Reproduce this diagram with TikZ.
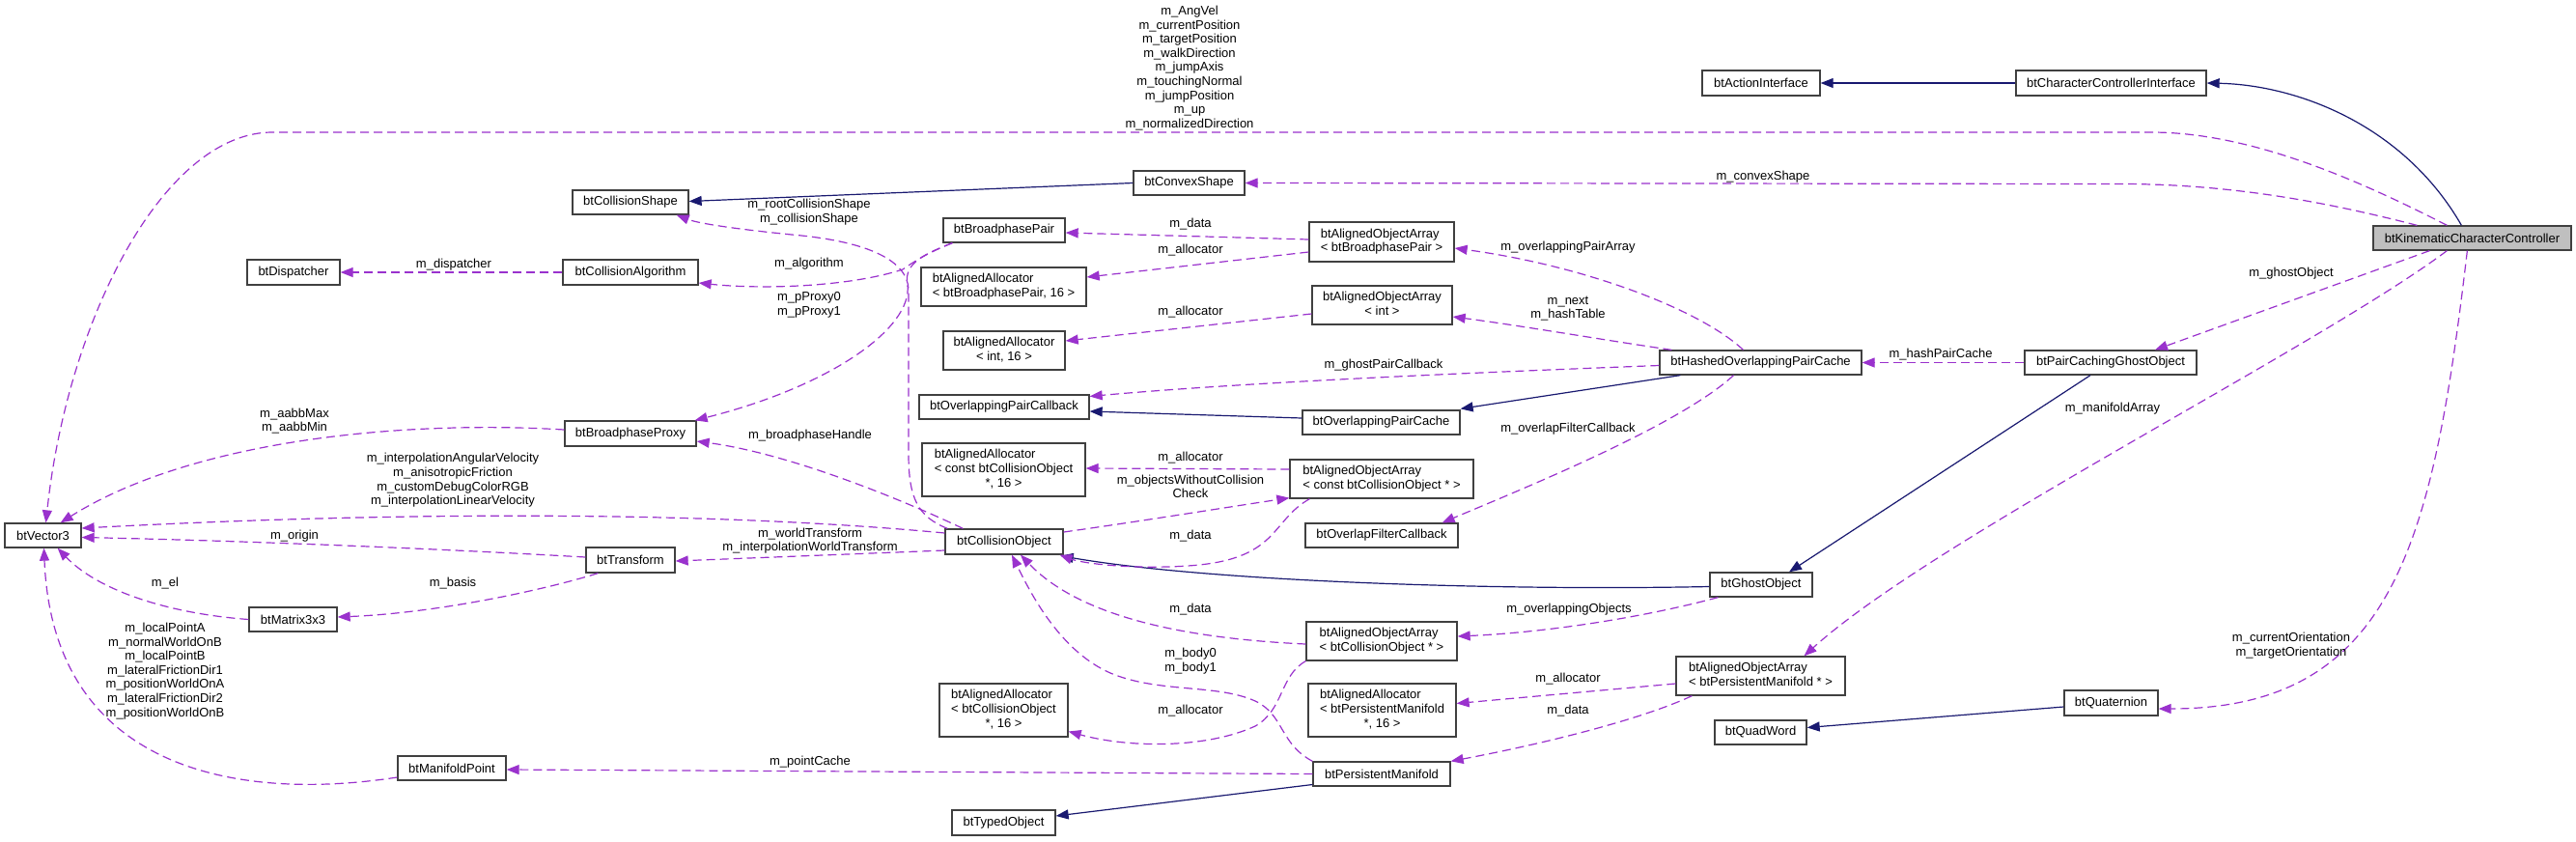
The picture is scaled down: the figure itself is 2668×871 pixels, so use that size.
\documentclass[tikz,border=0pt]{standalone}
\usepackage{fontspec}
\setmainfont{Liberation Sans}
\usetikzlibrary{arrows.meta,calc}
\definecolor{usecol}{HTML}{9A32CD}
\definecolor{inhcol}{HTML}{191970}
\definecolor{boxcol}{HTML}{404040}
\definecolor{kinfill}{HTML}{BFBFBF}
\newcommand\mkcls[6]{\node[cls,minimum width=#4pt,minimum height=#5pt] (#1) at (#2,#3) {#6};}
\newcommand\twol[2]{\begin{tabular}{@{}l@{}}#1\\\multicolumn{1}{@{}c@{}}{#2}\end{tabular}}
\newcommand\threel[3]{\begin{tabular}{@{}l@{}}#1\\#2\\\multicolumn{1}{@{}c@{}}{#3}\end{tabular}}
\begin{document}
\begin{tikzpicture}[x=1pt,y=-1pt,
 cls/.style={draw=boxcol, fill=white, line width=1.3pt, inner sep=0pt, font=\fontsize{13}{14.6}\selectfont, text=black},
 lbl/.style={inner sep=0pt, font=\fontsize{13}{14.6}\selectfont, align=center},
 uses/.style={draw=usecol, line width=1.2pt, dash pattern=on 9pt off 5pt, -{Triangle[length=13pt,width=10pt]}},
 inh/.style={draw=inhcol, line width=1.2pt, -{Triangle[length=13pt,width=10pt]}},
]
\useasboundingbox[fill=white] (0,0) rectangle (2668,871);

% nodes
\node[cls,fill=kinfill,minimum width=205pt,minimum height=25pt] (kin) at (2560.5,246.5) {btKinematicCharacterController};
\mkcls{cci}{2186.5}{86}{197}{26}{btCharacterControllerInterface}
\mkcls{act}{1824}{86}{122}{26}{btActionInterface}
\mkcls{convex}{1231.5}{189.5}{115}{25}{btConvexShape}
\mkcls{cshape}{653}{209.5}{120}{25}{btCollisionShape}
\mkcls{disp}{304}{282}{96}{26}{btDispatcher}
\mkcls{calg}{653}{282}{140}{26}{btCollisionAlgorithm}
\mkcls{bpp}{1040}{238.5}{126}{25}{btBroadphasePair}
\mkcls{aoabp}{1431}{250.5}{150}{41}{\twol{btAlignedObjectArray}{< btBroadphasePair >}}
\mkcls{aabp}{1039.5}{297}{171}{40}{\twol{btAlignedAllocator}{< btBroadphasePair, 16 >}}
\mkcls{aaint}{1040}{363}{126}{40}{\twol{btAlignedAllocator}{< int, 16 >}}
\mkcls{aoaint}{1431.5}{316}{145}{40}{\twol{btAlignedObjectArray}{< int >}}
\mkcls{hopc}{1823.5}{375.5}{209}{25}{btHashedOverlappingPairCache}
\mkcls{pcgo}{2186}{375.5}{178}{25}{btPairCachingGhostObject}
\mkcls{opcb}{1040}{421.5}{176}{25}{btOverlappingPairCallback}
\mkcls{opc}{1430.5}{437.5}{163}{25}{btOverlappingPairCache}
\mkcls{bpproxy}{653}{449}{136}{26}{btBroadphaseProxy}
\mkcls{vec}{44.5}{554.5}{79}{25}{btVector3}
\mkcls{aacco}{1039.5}{486.5}{169}{55}{\threel{btAlignedAllocator}{< const btCollisionObject}{*, 16 >}}
\mkcls{aoacco}{1431}{496}{190}{40}{\twol{btAlignedObjectArray}{< const btCollisionObject * >}}
\mkcls{ofc}{1431}{554.5}{158}{25}{btOverlapFilterCallback}
\mkcls{co}{1040}{561}{122}{26}{btCollisionObject}
\mkcls{tr}{653}{580}{92}{26}{btTransform}
\mkcls{go}{1824}{605.5}{106}{25}{btGhostObject}
\mkcls{mat}{303.5}{641.5}{91}{25}{btMatrix3x3}
\mkcls{aoaco}{1431}{664}{156}{40}{\twol{btAlignedObjectArray}{< btCollisionObject * >}}
\mkcls{aoapm}{1823.5}{700}{175}{40}{\twol{btAlignedObjectArray}{< btPersistentManifold * >}}
\mkcls{aaco}{1039.5}{735.5}{133}{55}{\threel{btAlignedAllocator}{< btCollisionObject}{*, 16 >}}
\mkcls{aapm}{1431.5}{735.5}{153}{55}{\threel{btAlignedAllocator}{< btPersistentManifold}{*, 16 >}}
\mkcls{quat}{2186.5}{728}{97}{26}{btQuaternion}
\mkcls{qw}{1823.5}{758.5}{95}{25}{btQuadWord}
\mkcls{mp}{468}{795.5}{112}{25}{btManifoldPoint}
\mkcls{pm}{1431}{801.5}{142}{25}{btPersistentManifold}
\mkcls{to}{1039.5}{852}{107}{26}{btTypedObject}

% inheritance
\draw[inh] ($(kin.north west)+(92,0)$) .. controls (2490,130) and (2380,88) .. (cci.east);
\draw[inh] (cci.west) -- (act.east);
\draw[inh] (convex.west) -- ($(cshape.east)+(0,-1)$);
\draw[inh] ($(pcgo.south)+(-21,0)$) -- ($(go.north)+(29,0)$);
\draw[inh] ($(go.west)+(0,2)$) .. controls (1550,612) and (1250,602) .. ($(co.south east)+(-3,1)$);
\draw[inh] ($(hopc.south west)+(22,0)$) -- ($(opc.north east)+(0,-1)$);
\draw[inh] ($(opc.west)+(0,-4.5)$) -- ($(opcb.east)+(0,4.5)$);
\draw[inh] ($(pm.west)+(0,11)$) -- ($(to.east)+(0,-7)$);
\draw[inh] ($(quat.west)+(0,4)$) -- ($(qw.east)+(0,-5)$);

% usage
\draw[uses] ($(kin.north west)+(77,0)$) .. controls (2440,185) and (2330,137) .. (2228,137) -- (282,137) .. controls (170,137) and (70,330) .. ($(vec.north)+(3,0)$);
\node[lbl] (l1) at (1232,70.5) {m\_AngVel\\m\_currentPosition\\m\_targetPosition\\m\_walkDirection\\m\_jumpAxis\\m\_touchingNormal\\m\_jumpPosition\\m\_up\\m\_normalizedDirection};

\draw[uses] ($(kin.north west)+(46,0)$) .. controls (2420,212) and (2320,191) .. (2200,190.5) -- (convex.east);
\node[lbl] (l2) at (1826,183) {m\_convexShape};

\draw[uses] ($(kin.south west)+(59,0)$) -- ($(pcgo.north)+(46,0)$);
\node[lbl] (l3) at (2373,283) {m\_ghostObject};

\draw[uses] ($(kin.south west)+(77,0)$) .. controls (2400,360) and (2000,560) .. ($(aoapm.north)+(45,0)$);
\node[lbl] (l4) at (2188,423) {m\_manifoldArray};

\draw[uses] ($(kin.south west)+(98,0)$) .. controls (2520,560) and (2480,734) .. ($(quat.east)+(0,6)$);
\node[lbl] (l5) at (2373,668.5) {m\_currentOrientation\\m\_targetOrientation};

\draw[uses] (pcgo.west) -- (hopc.east);
\node[lbl] (l6) at (2010,367) {m\_hashPairCache};

\draw[uses] ($(hopc.north)+(-18,0)$) .. controls (1760,320) and (1640,275) .. ($(aoabp.east)+(0,6.5)$);
\node[lbl] (l7) at (1624,256) {m\_overlappingPairArray};

\draw[uses] ($(hopc.north west)+(13,0)$) .. controls (1660,352) and (1580,338) .. ($(aoaint.east)+(0,12)$);
\node[lbl] (l8) at (1624,319.5) {m\_next\\m\_hashTable};

\draw[uses] ($(hopc.west)+(0,3)$) .. controls (1550,385) and (1300,395) .. ($(opcb.east)+(0,-11)$);
\node[lbl] (l9) at (1433,378) {m\_ghostPairCallback};

\draw[uses] ($(hopc.south)+(-28,0)$) .. controls (1740,440) and (1580,505) .. ($(ofc.north east)+(-17,0)$);
\node[lbl] (l10) at (1624,444) {m\_overlapFilterCallback};

\draw[uses] ($(aoabp.west)+(0,-2.5)$) -- ($(bpp.east)+(0,2.5)$);
\node[lbl] (l11) at (1233,232) {m\_data};
\draw[uses] ($(aoabp.west)+(0,10.5)$) -- ($(aabp.east)+(0,-10)$);
\node[lbl] (l12) at (1233,259) {m\_allocator};
\draw[uses] ($(aoaint.west)+(0,9)$) -- ($(aaint.east)+(0,-10)$);
\node[lbl] (l13) at (1233,323) {m\_allocator};
\draw[uses] ($(aoacco.west)+(0,-10)$) -- ($(aacco.east)+(0,-1.5)$);
\node[lbl] (l14) at (1233,474) {m\_allocator};

\draw[uses] ($(co.east)+(0,-10)$) .. controls (1180,540) and (1260,527) .. ($(aoacco.south west)+(0,-1)$);
\node[lbl] (l15) at (1233,504) {m\_objectsWithoutCollision\\Check};

\draw[uses] ($(aoacco.south west)+(21,0)$) .. controls (1315,540) and (1325,580) .. (1230,586) .. controls (1170,590) and (1120,583) .. ($(co.south east)+(-4,0)$);
\node[lbl] (l16) at (1233,555) {m\_data};

\draw[uses] ($(aoaco.west)+(0,3)$) .. controls (1200,660) and (1110,630) .. ($(co.south)+(17,0)$);
\node[lbl] (l17) at (1233,631) {m\_data};

\draw[uses] (pm.north west) .. controls (1325,770) and (1330,740) .. (1300,726) .. controls (1260,708) and (1200,718) .. (1150,697) .. controls (1100,675) and (1070,620) .. ($(co.south)+(8,0)$);
\node[lbl] (l18) at (1233,684.5) {m\_body0\\m\_body1};

\draw[uses] (aoaco.south west) .. controls (1325,700) and (1330,735) .. (1300,752) .. controls (1250,775) and (1170,775) .. ($(aaco.east)+(0,22)$);
\node[lbl] (l19) at (1233,736) {m\_allocator};

\draw[uses] ($(go.south west)+(9,0)$) .. controls (1700,640) and (1600,655) .. ($(aoaco.east)+(0,-5)$);
\node[lbl] (l20) at (1625,631) {m\_overlappingObjects};

\draw[uses] ($(aoapm.west)+(0,8)$) -- ($(aapm.east)+(0,-7)$);
\node[lbl] (l21) at (1624,703) {m\_allocator};

\draw[uses] ($(aoapm.south west)+(17,0)$) .. controls (1700,745) and (1600,770) .. (pm.north east);
\node[lbl] (l22) at (1624,736) {m\_data};

\draw[uses] (pm.west) -- ($(mp.east)+(0,1.5)$);
\node[lbl] (l23) at (839,789) {m\_pointCache};

\draw[uses] ($(mp.west)+(0,9.5)$) .. controls (250,830) and (55,800) .. ($(vec.south)+(1,0)$);
\node[lbl] (l24) at (171,695) {m\_localPointA\\m\_normalWorldOnB\\m\_localPointB\\m\_lateralFrictionDir1\\m\_positionWorldOnA\\m\_lateralFrictionDir2\\m\_positionWorldOnB};

\draw[uses] ($(co.west)+(0,-9)$) .. controls (800,535) and (500,525) .. ($(vec.east)+(0,-7.5)$);
\node[lbl] (l25) at (469,497.5) {m\_interpolationAngularVelocity\\m\_anisotropicFriction\\m\_customDebugColorRGB\\m\_interpolationLinearVelocity};

\draw[uses] ($(tr.west)+(0,-3)$) .. controls (450,568) and (250,560) .. ($(vec.east)+(0,2)$);
\node[lbl] (l26) at (305,555) {m\_origin};

\draw[uses] ($(tr.south west)+(13,0)$) .. controls (560,612) and (450,635) .. ($(mat.east)+(0,-2.5)$);
\node[lbl] (l27) at (469,604) {m\_basis};

\draw[uses] (mat.west) .. controls (170,635) and (100,610) .. ($(vec.south east)+(-25,0)$);
\node[lbl] (l28) at (171,604) {m\_el};

\draw[uses] ($(bpproxy.west)+(0,-4)$) .. controls (420,435) and (200,455) .. ($(vec.north east)+(-22,0)$);
\node[lbl] (l29) at (305,436) {m\_aabbMax\\m\_aabbMin};

\draw[uses] ($(co.west)+(0,9)$) -- ($(tr.east)+(0,1)$);
\node[lbl] (l30) at (839,560) {m\_worldTransform\\m\_interpolationWorldTransform};

\draw[uses] ($(co.north west)+(19,0)$) .. controls (940,520) and (820,470) .. ($(bpproxy.east)+(0,8)$);
\node[lbl] (l31) at (839,451) {m\_broadphaseHandle};

\draw[uses] ($(co.north west)+(3,0)$) .. controls (950,535) and (941,515) .. (941,470) -- (941,300) .. controls (940,270) and (900,250) .. (820,243) .. controls (770,238) and (725,232) .. ($(cshape.south east)+(-13,0)$);
\node[lbl] (l32) at (838,219.5) {m\_rootCollisionShape\\m\_collisionShape};

\draw[uses] ($(bpp.south west)+(10,0)$) .. controls (960,262) and (945,272) .. (935,279) .. controls (880,297) and (790,300) .. ($(calg.east)+(0,11)$);
\node[lbl] (l33) at (838,273) {m\_algorithm};

\draw[uses] ($(bpp.south west)+(10,0)$) .. controls (960,262) and (935,272) .. (940,295) .. controls (945,340) and (860,400) .. ($(bpproxy.north east)+(-2,0)$);
\node[lbl] (l34) at (838,316) {m\_pProxy0\\m\_pProxy1};

\draw[uses] (calg.west) -- (disp.east);
\node[lbl] (l35) at (470,274) {m\_dispatcher};
\end{tikzpicture}
\end{document}
